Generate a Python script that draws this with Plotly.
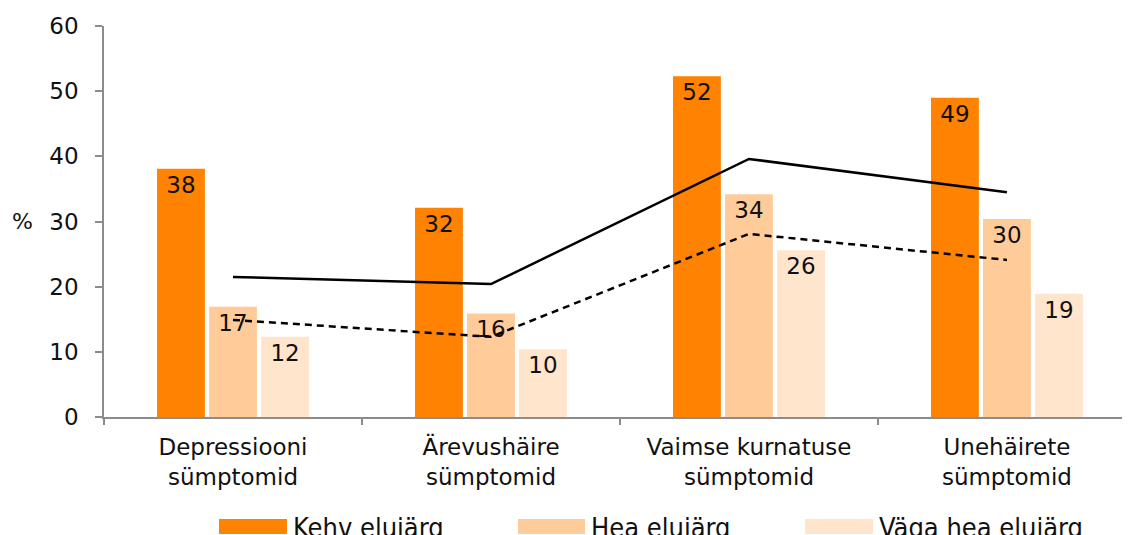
import plotly.graph_objects as go

categories = ["Depressiooni<br>sümptomid", "Ärevushäire<br>sümptomid",
              "Vaimse kurnatuse<br>sümptomid", "Unehäirete<br>sümptomid"]
series_names = ["Kehv elujärg", "Hea elujärg", "Väga hea elujärg"]
kehv = [38.1, 32.1, 52.3, 49.0]
hea = [16.9, 15.9, 34.2, 30.4]
vaga_hea = [12.3, 10.4, 25.6, 18.9]
labels_kehv = [38, 32, 52, 49]
labels_hea = [17, 16, 34, 30]
labels_vaga = [12, 10, 26, 19]
line_solid = [21.5, 20.4, 39.6, 34.5]
line_dashed = [14.9, 12.3, 28.1, 24.1]

colors = ["#FF8200", "#FFCC99", "#FFE5CC"]
FONT = "DejaVu Sans"

OFF = 8  # page body margin
W, H = 1130 - OFF, 535 - OFF
L, R, T, B = 104 - OFF, 0, 26 - OFF, 118
PW, PH = W - L - R, H - T - B

def px(x):
    return (x - OFF - L) / PW

def py(y):
    return (H - B - (y - OFF)) / PH

fig = go.Figure()
for name, vals, labs, col in zip(series_names, [kehv, hea, vaga_hea],
                                 [labels_kehv, labels_hea, labels_vaga], colors):
    fig.add_trace(go.Bar(
        x=categories, y=vals, name=name, marker=dict(color=col, line=dict(width=0)),
        text=[str(v) for v in labs], textposition="inside", insidetextanchor="end",
        textangle=0, constraintext="none",
        textfont=dict(family=FONT, size=23, color="#111111"),
        showlegend=False, hoverinfo="skip"))

fig.add_trace(go.Scatter(x=categories, y=line_solid, mode="lines",
                         line=dict(color="black", width=2.5), showlegend=False))
fig.add_trace(go.Scatter(x=categories, y=line_dashed, mode="lines",
                         line=dict(color="black", width=2.5, dash="7px,5px"),
                         showlegend=False))

# manual legend
legend_swatch = [(219, 287), (518, 585), (805, 873)]
shapes = []
annotations = []
for (x0, x1), name, col in zip(legend_swatch, series_names, colors):
    shapes.append(dict(type="rect", xref="paper", yref="paper",
                       x0=px(x0), x1=px(x1), y0=py(519), y1=py(534),
                       fillcolor=col, line=dict(width=0)))
    annotations.append(dict(xref="paper", yref="paper", x=px(x1 + 4), y=py(527),
                            xanchor="left", yanchor="middle", showarrow=False,
                            text=name,
                            font=dict(family="Liberation Sans Narrow, DejaVu Sans Condensed",
                                      size=27, color="#111111")))

annotations.append(dict(xref="paper", yref="y", x=px(22), y=30, text="%",
                        showarrow=False, xanchor="center", yanchor="middle",
                        font=dict(family=FONT, size=22, color="#111111")))

fig.update_layout(
    width=W, height=H,
    margin=dict(l=L, r=R, t=T, b=B, pad=0),
    barmode="group", bargap=0.395, bargroupgap=0.08,
    plot_bgcolor="white", paper_bgcolor="white",
    font=dict(family=FONT, size=23, color="#111111"),
    shapes=shapes, annotations=annotations,
    xaxis=dict(range=[-0.5, 3.477], showline=True, linecolor="#8c8c8c", linewidth=1.5,
               ticks="outside", tickson="boundaries", ticklen=6, tickcolor="#8c8c8c",
               tickwidth=1.5, showgrid=False, tickfont=dict(family=FONT, size=23),
               ticklabelstandoff=9, fixedrange=True),
    yaxis=dict(range=[0, 60], dtick=10, showline=True, linecolor="#8c8c8c", linewidth=1.5,
               ticks="outside", ticklen=7, tickcolor="#8c8c8c", tickwidth=1.5,
               showgrid=False, zeroline=False, tickfont=dict(family=FONT, size=23),
               ticklabelstandoff=12),
)

fig.write_html("out.html")
